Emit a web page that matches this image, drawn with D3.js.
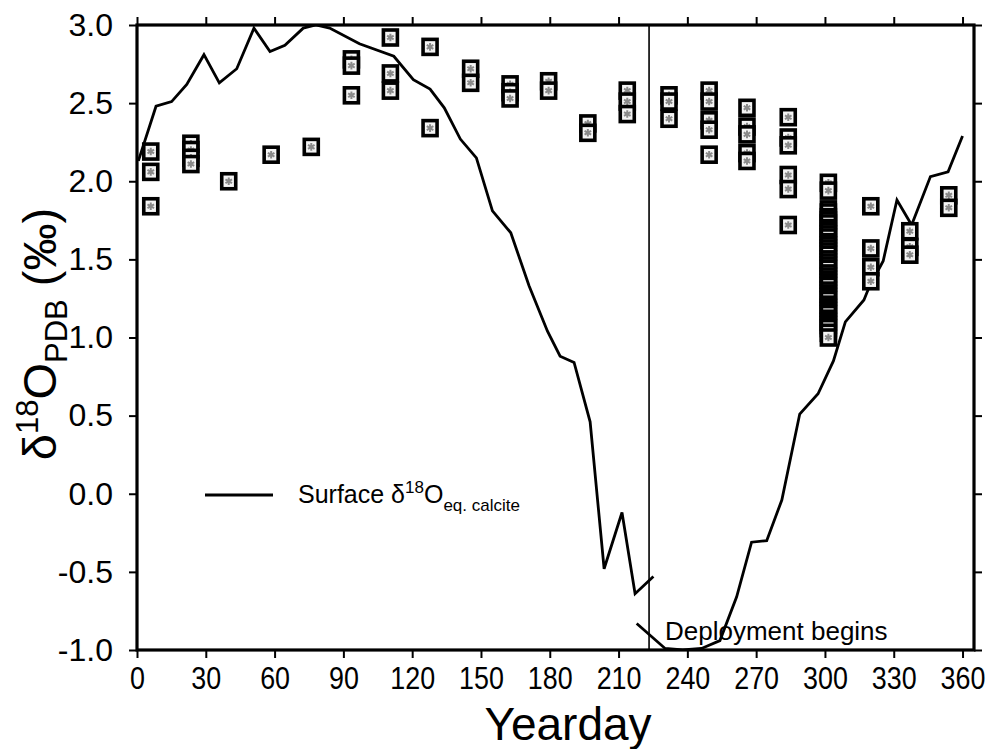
<!DOCTYPE html>
<html>
<head>
<meta charset="utf-8">
<script src="https://cdn.jsdelivr.net/npm/d3@7"></script>
<style>
  body { margin: 0; background: #fff; }
  svg { font-family: "Liberation Sans", Arial, sans-serif; }
</style>
</head>
<body>
<div class="container"></div>
<script>
// surface d18O of equilibrium calcite, two pieces of the curve
const lineDaysA = [0.6, 8.3, 15.1, 21.7, 29.2, 35.9, 43.5, 51, 58, 64.5, 72.5, 78, 84, 97, 112, 120.5, 127.8, 134, 141, 148, 155, 163, 171, 179, 184.5, 190.6, 197.6, 203.7, 211.5, 217.2, 225.2];
const lineValsA = [2.13, 2.48, 2.51, 2.62, 2.81, 2.63, 2.72, 2.98, 2.83, 2.87, 2.98, 3.0, 2.98, 2.88, 2.80, 2.65, 2.59, 2.47, 2.27, 2.15, 1.81, 1.67, 1.33, 1.04, 0.88, 0.84, 0.46, -0.48, -0.12, -0.64, -0.53];
const lineDaysB = [217.9, 230.3, 238, 246.2, 254.2, 261.5, 268, 274.6, 281.2, 289, 297, 303.7, 308.9, 317, 319.2, 325.4, 331.4, 337.8, 346, 353.7, 360];
const lineValsB = [-0.83, -0.99, -1.0, -0.99, -0.94, -0.66, -0.31, -0.30, -0.04, 0.51, 0.64, 0.85, 1.10, 1.24, 1.32, 1.49, 1.88, 1.72, 2.03, 2.06, 2.29];

// sediment trap samples (yearday and measured values)
const sampleDays = [6, 23.5, 40, 58.5, 76, 93.5, 110.5, 127.8, 145.5, 162.7, 179.5, 196.6, 213.8, 232, 249.5, 266, 284, 301.5, 320, 337, 354];
const sampleVals = [
  [2.19, 2.06, 1.84],
  [2.24, 2.20, 2.15, 2.11],
  [2.00],
  [2.17],
  [2.22],
  [2.78, 2.74, 2.55],
  [2.92, 2.69, 2.58],
  [2.86, 2.34],
  [2.72, 2.63],
  [2.62, 2.57, 2.53],
  [2.64, 2.58],
  [2.37, 2.31],
  [2.58, 2.51, 2.43],
  [2.55, 2.51, 2.40],
  [2.58, 2.51, 2.39, 2.33, 2.17],
  [2.47, 2.35, 2.30, 2.18, 2.13],
  [2.41, 2.28, 2.23, 2.04, 1.95, 1.72],
  [1.99, 1.94, 1.82, 1.80, 1.77, 1.75, 1.73, 1.70, 1.68, 1.66, 1.64, 1.61, 1.59, 1.57, 1.55, 1.53, 1.50, 1.48, 1.46, 1.44, 1.41, 1.39, 1.37, 1.35, 1.33, 1.30, 1.28, 1.26, 1.24, 1.21, 1.19, 1.17, 1.15, 1.12, 1.10, 1.08, 1.06, 1.03, 1.00],
  [1.84, 1.57, 1.45, 1.36],
  [1.68, 1.58, 1.53],
  [1.91, 1.83]
];

const xTicks = [0, 30, 60, 90, 120, 150, 180, 210, 240, 270, 300, 330, 360];
const yTicks = [-1.0, -0.5, 0.0, 0.5, 1.0, 1.5, 2.0, 2.5, 3.0];
const deployDay = 223.3;

const W = 991, H = 749;
const plotL = 137, plotR = 974, plotT = 25, plotB = 650;

const svg = d3.select(".container").append("svg")
  .attr("width", W).attr("height", H);

const x = d3.scaleLinear().domain([0, 365]).range([plotL, plotR]);
const y = d3.scaleLinear().domain([-1, 3]).range([plotB, plotT]);

svg.append("clipPath").attr("id", "clip")
  .append("rect").attr("x", plotL).attr("y", plotT - 1)
  .attr("width", plotR - plotL).attr("height", plotB - plotT + 2);

const plot = svg.append("g").attr("clip-path", "url(#clip)");

// deployment marker
plot.append("line")
  .attr("x1", x(deployDay)).attr("x2", x(deployDay))
  .attr("y1", plotT).attr("y2", plotB)
  .attr("stroke", "#000").attr("stroke-width", 1.6);

const line = d3.line().x((d) => x(d[0])).y((d) => y(d[1]));
[d3.zip(lineDaysA, lineValsA), d3.zip(lineDaysB, lineValsB)].forEach((seg) => {
  plot.append("path").datum(seg)
    .attr("d", line)
    .attr("fill", "none")
    .attr("stroke", "#000")
    .attr("stroke-width", 2.8)
    .attr("stroke-linejoin", "miter");
});

// sample markers
const pts = [];
sampleDays.forEach((d, i) => sampleVals[i].forEach((v) => pts.push([d, v])));
const star = d3.symbol().type(d3.symbolAsterisk).size(40);
const mk = plot.selectAll(".mk").data(pts).join("g")
  .attr("class", "mk")
  .attr("transform", (d) => `translate(${x(d[0])},${y(d[1])})`);
mk.append("rect")
  .attr("x", -7).attr("y", -7.5).attr("width", 14).attr("height", 15)
  .attr("fill", "#f4f4f4").attr("stroke", "#000").attr("stroke-width", 3.6);
mk.append("path").attr("d", star)
  .attr("fill", "none").attr("stroke", "#8a8a8a").attr("stroke-width", 2);

// frame and axes
const hyphen = (f) => (d) => f(d).replace("−", "-");

const xb = svg.append("g").attr("transform", `translate(0,${plotB})`)
  .call(d3.axisBottom(x).tickValues(xTicks).tickSize(8).tickPadding(8).tickFormat(d3.format("d")));
xb.selectAll("text").attr("font-size", 32).attr("transform", "scale(0.84,1)");

svg.append("g").attr("transform", `translate(0,${plotT})`)
  .call(d3.axisTop(x).tickValues(xTicks).tickSize(8).tickFormat(""));

const yl = svg.append("g").attr("transform", `translate(${plotL},0)`)
  .call(d3.axisLeft(y).tickValues(yTicks).tickSize(8).tickPadding(16).tickFormat(hyphen(d3.format(".1f"))));
yl.selectAll("text").attr("font-size", 32);

svg.append("g").attr("transform", `translate(${plotR},0)`)
  .call(d3.axisRight(y).tickValues(yTicks).tickSize(8).tickFormat(""));

svg.selectAll(".domain").remove();
svg.selectAll(".tick line").attr("stroke", "#000").attr("stroke-width", 2);
svg.selectAll(".tick text").attr("fill", "#000");

svg.append("rect")
  .attr("x", plotL).attr("y", plotT)
  .attr("width", plotR - plotL).attr("height", plotB - plotT)
  .attr("fill", "none").attr("stroke", "#000").attr("stroke-width", 3.2);

// axis titles
svg.append("text")
  .attr("x", 568).attr("y", 740)
  .attr("text-anchor", "middle").attr("font-size", 46)
  .text("Yearday");

const yt = svg.append("text")
  .attr("transform", "translate(56,334) rotate(-90)")
  .attr("text-anchor", "middle").attr("font-size", 47);
yt.append("tspan").text("δ");
yt.append("tspan").attr("font-size", 31).attr("dy", -18).text("18");
yt.append("tspan").attr("dy", 18).text("O");
yt.append("tspan").attr("font-size", 31).attr("dy", 11).text("PDB");
yt.append("tspan").attr("dy", -11).text(" (‰)");

// legend
svg.append("line")
  .attr("x1", 205).attr("x2", 273).attr("y1", 495).attr("y2", 495)
  .attr("stroke", "#000").attr("stroke-width", 2.8);
const lg = svg.append("text").attr("x", 298).attr("y", 503).attr("font-size", 25);
lg.append("tspan").text("Surface δ");
lg.append("tspan").attr("font-size", 17).attr("dy", -10).text("18");
lg.append("tspan").attr("dy", 10).text("O");
lg.append("tspan").attr("font-size", 17).attr("dy", 8).text("eq. calcite");

svg.append("text")
  .attr("x", 665).attr("y", 640).attr("font-size", 26)
  .text("Deployment begins");
</script>
</body>
</html>
